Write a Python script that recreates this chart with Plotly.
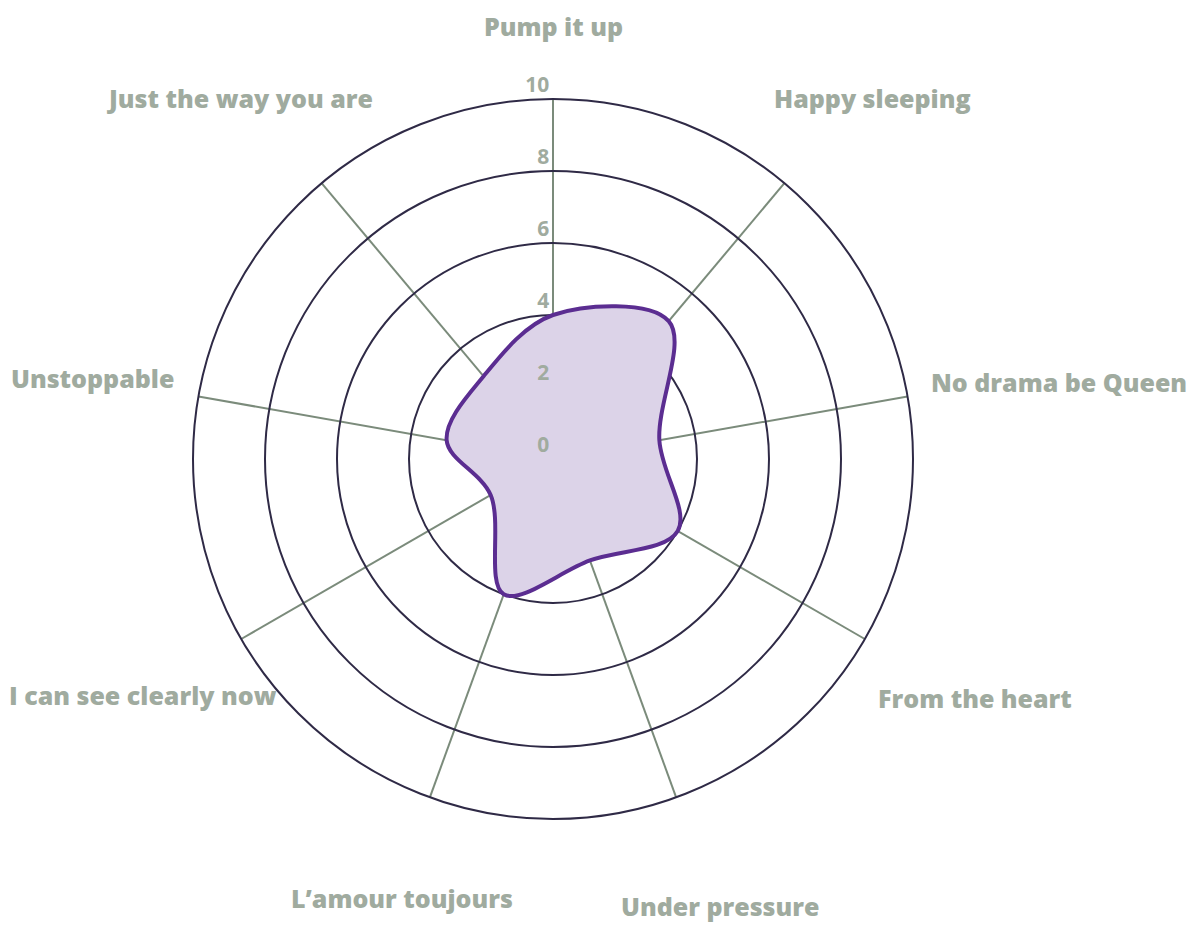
import plotly.graph_objects as go

categories = ["Pump it up", "Happy sleeping", "No drama be Queen", "From the heart",
              "Under pressure", "L’amour toujours", "I can see clearly now",
              "Unstoppable", "Just the way you are"]
values = [4, 5, 3, 4, 3, 4, 2, 3, 3]
radial_ticks = [0, 2, 4, 6, 8, 10]
radial_ticktext = [str(v) for v in radial_ticks]

# label placement (page pixels of the label centre) - layout only
label_pos = [(553, 26), (872, 98), (1059, 382), (975, 698), (720, 906),
             (402, 898), (143, 695), (92, 378), (240, 98)]

label_color = "#a0ab9f"
ring_color = "#2f2a46"
spoke_color = "#7b8b7b"
W, H, OFF = 1200, 928, 8  # html body margin offset

fig = go.Figure()
fig.add_trace(go.Scatterpolar(
    r=values + values[:1],
    theta=categories + categories[:1],
    mode="lines",
    fill="toself",
    fillcolor="rgb(220,211,232)",
    line=dict(color="#5b2d91", width=4, shape="spline", smoothing=1.0),
    hoverinfo="skip",
))

annotations = []
for txt, (px, py) in zip(categories, label_pos):
    annotations.append(dict(
        text=txt, x=(px - OFF) / W, y=1 - (py - OFF) / H,
        xref="paper", yref="paper", xanchor="center", yanchor="middle",
        showarrow=False,
        font=dict(family="Open Sans", size=25, color=label_color, weight=800),
    ))

fig.update_layout(
    width=W, height=H,
    margin=dict(l=0, r=0, t=0, b=0),
    paper_bgcolor="white",
    showlegend=False,
    annotations=annotations,
    polar=dict(
        domain=dict(x=[185 / W, 905 / W], y=[117 / H, 837 / H]),
        bgcolor="white",
        angularaxis=dict(
            rotation=90, direction="clockwise",
            categoryorder="array", categoryarray=categories,
            showline=True, linecolor=ring_color, linewidth=2,
            showgrid=True, gridcolor=spoke_color, gridwidth=2,
            ticks="", showticklabels=False,
        ),
        radialaxis=dict(
            range=[0, 10], tickvals=radial_ticks,
            ticktext=[t + "<br> " for t in radial_ticktext], angle=90,
            showline=False, showgrid=True, gridcolor=ring_color, gridwidth=2,
            ticks="", tickangle=90, side="counterclockwise",
            tickfont=dict(size=21, family="Open Sans", color=label_color, weight="bold"),
        ),
    ),
)

fig.write_html("out.html")
